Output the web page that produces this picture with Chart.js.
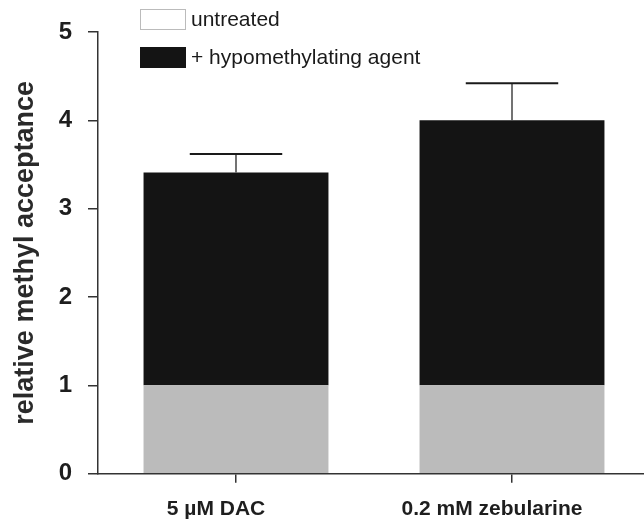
<!DOCTYPE html>
<html>
<head>
<meta charset="utf-8">
<script src="https://cdn.jsdelivr.net/npm/chart.js@4/dist/chart.umd.min.js"></script>
<style>
html, body { margin: 0; padding: 0; overflow: hidden; background: #fff; }
#wrap { width: 650px; height: 523px; position: relative; }
</style>
</head>
<body>
<div id="wrap"><canvas id="c" width="650" height="523"></canvas></div>
<script>
const categories = ['5 µM DAC', '0.2 mM zebularine'];
const untreated = [1.0, 1.0];
const hypoIncrement = [2.41, 3.0];
const errors = [0.21, 0.42];
const yTicks = [0, 1, 2, 3, 4, 5];
const seriesNames = ['untreated', '+ hypomethylating agent'];

const errorBarPlugin = {
  id: 'errorBars',
  afterDatasetsDraw(chart) {
    const ctx = chart.ctx;
    const meta = chart.getDatasetMeta(1);
    const y = chart.scales.y;
    meta.data.forEach((bar, i) => {
      const total = untreated[i] + hypoIncrement[i];
      const yTop = y.getPixelForValue(total);
      const yCap = y.getPixelForValue(total + errors[i]);
      const half = bar.width * 0.25;
      ctx.save();
      ctx.strokeStyle = '#444';
      ctx.lineWidth = 1.5;
      ctx.beginPath();
      ctx.moveTo(bar.x, yTop);
      ctx.lineTo(bar.x, yCap);
      ctx.stroke();
      ctx.strokeStyle = '#1a1a1a';
      ctx.lineWidth = 2;
      ctx.beginPath();
      ctx.moveTo(bar.x - half, yCap);
      ctx.lineTo(bar.x + half, yCap);
      ctx.stroke();
      ctx.restore();
    });
  }
};

const legendPlugin = {
  id: 'customLegend',
  afterDraw(chart) {
    const ctx = chart.ctx;
    const left = chart.chartArea.left + 42;
    const items = [
      { text: seriesNames[0], fill: '#ffffff', stroke: '#bbbbbb', y: 9 },
      { text: seriesNames[1], fill: '#141414', stroke: '#141414', y: 47 }
    ];
    ctx.save();
    ctx.font = '21px "Liberation Sans", Arial, sans-serif';
    ctx.textBaseline = 'middle';
    ctx.textAlign = 'left';
    items.forEach(it => {
      ctx.fillStyle = it.fill;
      ctx.fillRect(left, it.y, 46, 21);
      ctx.strokeStyle = it.stroke;
      ctx.lineWidth = 1;
      ctx.strokeRect(left + 0.5, it.y + 0.5, 45, 20);
      ctx.fillStyle = '#1a1a1a';
      ctx.fillText(it.text, left + 51, it.y + 11);
    });
    ctx.restore();
  }
};

new Chart(document.getElementById('c'), {
  type: 'bar',
  data: {
    labels: categories,
    datasets: [
      { label: seriesNames[0], data: untreated, backgroundColor: '#bbbbbb', borderWidth: 0 },
      { label: seriesNames[1], data: hypoIncrement, backgroundColor: '#141414', borderWidth: 0 }
    ]
  },
  options: {
    responsive: false,
    animation: false,
    devicePixelRatio: 1,
    layout: { padding: { top: 32, left: 0, right: 0, bottom: 0 } },
    datasets: { bar: { barPercentage: 0.67, categoryPercentage: 1.0 } },
    plugins: { legend: { display: false }, tooltip: { enabled: false } },
    scales: {
      x: {
        stacked: true,
        offset: true,
        grid: { offset: false, drawOnChartArea: false, drawTicks: true, tickLength: 9, color: '#333', lineWidth: 1.5 },
        border: { display: true, color: '#333', width: 1.5 },
        ticks: {
          color: '#1e1e1e',
          padding: 14,
          labelOffset: -20,
          font: { family: '"Liberation Sans", Arial, sans-serif', size: 21, weight: 'bold' }
        },
        afterFit(scale) { scale.height = 49.3; }
      },
      y: {
        stacked: true,
        min: 0,
        max: 5,
        afterBuildTicks(scale) { scale.ticks = yTicks.map(v => ({ value: v })); },
        grid: { drawOnChartArea: false, drawTicks: true, tickLength: 10, color: '#333', lineWidth: 1.5 },
        border: { display: true, color: '#333', width: 1.5 },
        ticks: {
          color: '#1e1e1e',
          padding: 16,
          font: { family: '"Liberation Sans", Arial, sans-serif', size: 24, weight: 'bold' }
        },
        title: {
          display: true,
          text: 'relative methyl acceptance',
          color: '#2a2a2a',
          padding: { top: 9, bottom: 0 },
          font: { family: '"Liberation Sans", Arial, sans-serif', size: 27, weight: 'bold' }
        },
        afterFit(scale) { scale.width = 98; }
      }
    }
  },
  plugins: [errorBarPlugin, legendPlugin]
});
</script>
</body>
</html>
